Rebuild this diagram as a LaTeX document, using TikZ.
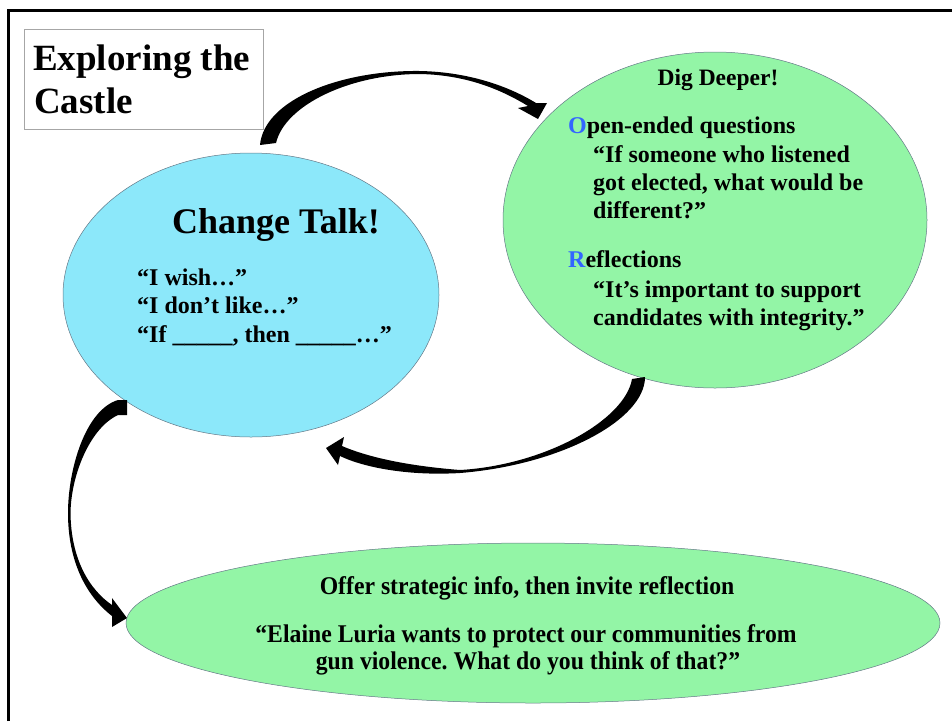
\documentclass[tikz,border=0pt]{standalone}
\usepackage{fontspec}
\setmainfont{Liberation Serif}
\newfontfamily\narrowserif[FakeStretch=0.93]{Liberation Serif}
\usetikzlibrary{shapes.geometric}
\definecolor{talkblue}{RGB}{140,232,250}
\definecolor{diggreen}{RGB}{147,245,166}
\definecolor{oarsblue}{RGB}{51,102,255}
\definecolor{rimgray}{RGB}{100,120,135}
\frenchspacing

\begin{document}
\begin{tikzpicture}[x=1pt,y=-1pt,
     bubble/.style = {draw=rimgray, line width=0.5pt, ellipse, inner sep=0pt},
     txt/.style = {anchor=base west, inner sep=0pt, font=\bfseries\fontsize{24}{28}\selectfont},
     ctxt/.style = {anchor=base, inner sep=0pt, font=\narrowserif\bfseries\fontsize{25.5}{28}\selectfont},
     curly/.style = {fill=black, draw=none}
    ]
    \useasboundingbox (0,0) rectangle (952,721);
    % frame
    \draw[line width=2.6pt] (8.3,721) -- (8.3,10.3) -- (952,10.3);

    % title
    \node[draw=gray!70, line width=0.8pt, minimum width=239pt, minimum height=100pt,
          anchor=north west, inner sep=0pt] (titlebox) at (24,29) {};
    \node[txt, font=\bfseries\fontsize{37}{43}\selectfont] (title1) at (33,70) {Exploring the};
    \node[txt, font=\bfseries\fontsize{37}{43}\selectfont] (title2) at (34,113) {Castle};

    % bubbles
    \node[bubble, fill=talkblue, minimum width=376pt, minimum height=284pt] (talk) at (251,295) {};
    \node[bubble, fill=diggreen, minimum width=424pt, minimum height=336pt] (dig) at (715,220) {};
    \node[bubble, fill=diggreen, minimum width=814pt, minimum height=160pt] (offer) at (533,623) {};

    % change talk
    \node[txt, font=\bfseries\fontsize{36}{40}\selectfont] (talkhead) at (172,233) {Change Talk!};
    \node[txt] (wish) at (137,285) {“I wish…”};
    \node[txt] (dislike) at (137,313) {“I don’t like…”};
    \node[txt] (ifthen) at (137,342) {“If \_\_\_\_\_, then \_\_\_\_\_…”};

    % dig deeper
    \node[txt, anchor=base, font=\bfseries\fontsize{23.5}{27}\selectfont] (dighead) at (718,85) {Dig Deeper!};
    \node[txt] (open) at (568,133) {\textcolor{oarsblue}{O}pen-ended questions};
    \node[txt] (qopen1) at (593,162) {“If someone who listened};
    \node[txt] (qopen2) at (593,190) {got elected, what would be};
    \node[txt] (qopen3) at (593,218) {different?”};
    \node[txt] (refl) at (568,267) {\textcolor{oarsblue}{R}eflections};
    \node[txt] (qrefl1) at (593,297) {“It’s important to support};
    \node[txt] (qrefl2) at (593,325) {candidates with integrity.”};

    % offer info
    \node[ctxt] (offer1) at (527,594) {Offer strategic info, then invite reflection};
    \node[ctxt] (offer2) at (526,642) {“Elaine Luria wants to protect our communities from};
    \node[ctxt] (offer3) at (528,669) {gun violence. What do you think of that?”};

    % curved arrows
    \fill[curly] (260,145) .. controls (264,100) and (340,70) .. (420,71)
        .. controls (470,72) and (510,87) .. (536,103) -- (547,103) -- (538,119) -- (518,108)
        -- (528,106) .. controls (505,92) and (470,75) .. (420,74)
        .. controls (350,74) and (285,105) .. (276,143) -- cycle;
    \fill[curly] (645,377) .. controls (645,420) and (560,465) .. (460,473)
        .. controls (410,476) and (365,468) .. (340,456) -- (338,465) -- (326,448) -- (344,437)
        -- (342,446) .. controls (370,458) and (410,466) .. (460,470)
        .. controls (545,465) and (625,420) .. (632,379) -- cycle;
    \fill[curly] (127,400) -- (118,400) .. controls (85,410) and (68,470) .. (68,513)
        .. controls (68,560) and (85,595) .. (112,616) -- (112,627) -- (127,618) -- (112,598)
        -- (112,605) .. controls (90,590) and (71,560) .. (70.5,513)
        .. controls (71,475) and (90,428) .. (118,415) -- (127,415) -- cycle;
\end{tikzpicture}
\end{document}
